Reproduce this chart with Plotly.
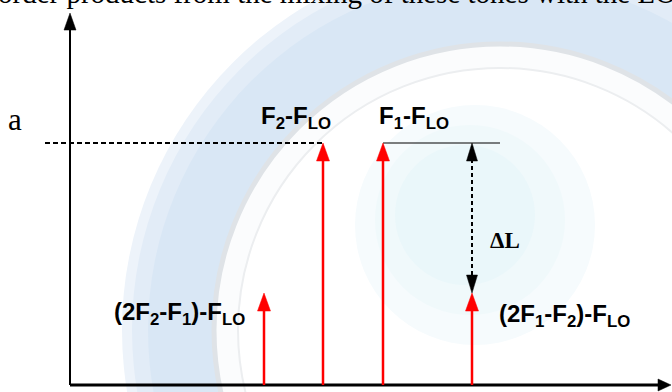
import plotly.graph_objects as go

# ---- spectrum data (arbitrary frequency units along the IF axis, amplitude normalised to the tones) ----
product_labels = [
    "(2F<sub>2</sub>-F<sub>1</sub>)-F<sub>LO</sub>",
    "F<sub>2</sub>-F<sub>LO</sub>",
    "F<sub>1</sub>-F<sub>LO</sub>",
    "(2F<sub>1</sub>-F<sub>2</sub>)-F<sub>LO</sub>",
]
product_freq = [19.4, 25.3, 31.3, 40.2]
product_amp = [0.38, 1.0, 1.0, 0.38]

# label offsets from each arrow tip (pixels)
label_dx = [-85, -27, 31, 92]
label_dy = [-20, 26, 26, -22]

tone_level = 1.0           # level "a" of the two fundamental products
level_line_start = -2.5    # left end of the dashed reference line
level_line_end = 43.0      # right end of the solid reference line
x_axis_end = 60.1
y_axis_end = 1.537

# ---- axis scaling: fill the whole 672x392 canvas ----
W, H = 672, 392
X_RANGE = [-7.0, 60.2]
Y_RANGE = [-7 / 242, 385 / 242]
PX_X = W / (X_RANGE[1] - X_RANGE[0])
PX_Y = H / (Y_RANGE[1] - Y_RANGE[0])

fig = go.Figure()


def segment(x0, y0, x1, y1, color, width, dash="solid"):
    fig.add_trace(go.Scatter(x=[x0, x1], y=[y0, y1], mode="lines",
                             line=dict(color=color, width=width, dash=dash),
                             hoverinfo="skip", showlegend=False))


def head(x, y, direction, color, w_px, l_px):
    """Filled triangular arrow head with its tip at (x, y)."""
    if direction == "up":
        xs = [x, x - w_px / 2 / PX_X, x + w_px / 2 / PX_X, x]
        ys = [y, y - l_px / PX_Y, y - l_px / PX_Y, y]
    elif direction == "down":
        xs = [x, x - w_px / 2 / PX_X, x + w_px / 2 / PX_X, x]
        ys = [y, y + l_px / PX_Y, y + l_px / PX_Y, y]
    else:  # right
        xs = [x, x - l_px / PX_X, x - l_px / PX_X, x]
        ys = [y, y + w_px / 2 / PX_Y, y - w_px / 2 / PX_Y, y]
    fig.add_trace(go.Scatter(x=xs, y=ys, mode="lines", fill="toself",
                             fillcolor=color, line=dict(color=color, width=0.5),
                             hoverinfo="skip", showlegend=False))


# ---- faint seal in the background ----
def circle_paper(cx, cy, r, fill, line_color=None, line_width=0):
    return dict(type="circle", xref="paper", yref="paper", layer="below",
                x0=(cx - r) / W, x1=(cx + r) / W,
                y0=1 - (cy + r) / H, y1=1 - (cy - r) / H,
                fillcolor=fill,
                line=dict(color=line_color or fill, width=line_width))


shapes = [
    circle_paper(500, 330, 378, "#edf3fa"),
    circle_paper(500, 330, 368, "#e2ecf7"),
    circle_paper(500, 330, 352, "#d9e7f5"),
    circle_paper(500, 330, 286, "#fbfcfd", "#dfe3e7", 5),
    circle_paper(500, 330, 262, "#ffffff", "#eceef0", 2),
    circle_paper(475, 225, 120, "#f6fbfd"),
    circle_paper(470, 220, 95, "#f0f9fb"),
    circle_paper(465, 215, 70, "#eaf7fa"),
]

# ---- axes ----
segment(0, 0, 0, y_axis_end - 8 / PX_Y, "black", 2)
head(0, y_axis_end, "up", "black", 12, 17)
segment(0, 0, x_axis_end - 6 / PX_X, 0, "black", 3)
head(x_axis_end, 0, "right", "black", 12, 13)

# ---- reference levels ----
segment(level_line_start, tone_level, product_freq[1], tone_level, "black", 2, "5px,3px")
segment(product_freq[2], tone_level, level_line_end, tone_level, "black", 1.2)

# ---- spectral lines ----
for f, a in zip(product_freq, product_amp):
    segment(f, 0, f, a - 9 / PX_Y, "#ff0000", 2.5)
    head(f, a, "up", "#ff0000", 13, 18)

# ---- level difference between tone and third-order product ----
f_im = product_freq[3]
segment(f_im, tone_level - 9 / PX_Y, f_im, product_amp[3] + 9 / PX_Y, "black", 2, "4px,3px")
head(f_im, tone_level, "up", "black", 11, 18)
head(f_im, product_amp[3], "down", "black", 11, 18)

# ---- text ----
sans = dict(family="Liberation Sans, Arial, sans-serif", size=24, color="black")
annotations = []
for lab, f, a, dx, dy in zip(product_labels, product_freq, product_amp, label_dx, label_dy):
    annotations.append(dict(x=f, y=a, xref="x", yref="y", text="<b>" + lab + "</b>",
                            showarrow=False, xanchor="center", yanchor="middle",
                            xshift=dx, yshift=dy, font=sans))

annotations.append(dict(x=f_im, y=(tone_level + product_amp[3]) / 2, xref="x", yref="y",
                        text="<b>ΔL</b>", showarrow=False, xanchor="center", yanchor="middle",
                        xshift=33, yshift=-22,
                        font=dict(family="Liberation Serif, Times New Roman, serif", size=23, color="black")))
annotations.append(dict(x=0, y=tone_level, xref="x", yref="y", text="a", showarrow=False,
                        xanchor="center", yanchor="middle", xshift=-55, yshift=24,
                        font=dict(family="Liberation Serif, Times New Roman, serif", size=31, color="black")))
annotations.append(dict(x=0, y=1, xref="paper", yref="paper",
                        text="order products from the mixing of these tones with the LO",
                        showarrow=False, xanchor="left", yanchor="bottom", xshift=-4, yshift=-11,
                        font=dict(family="Liberation Serif, Times New Roman, serif", size=29, color="black")))

fig.update_layout(
    width=W, height=H,
    margin=dict(l=0, r=0, t=0, b=0),
    paper_bgcolor="white", plot_bgcolor="rgba(0,0,0,0)",
    xaxis=dict(range=X_RANGE, visible=False, fixedrange=True),
    yaxis=dict(range=Y_RANGE, visible=False, fixedrange=True),
    shapes=shapes,
    annotations=annotations,
    showlegend=False,
)

fig.write_html("out.html")
